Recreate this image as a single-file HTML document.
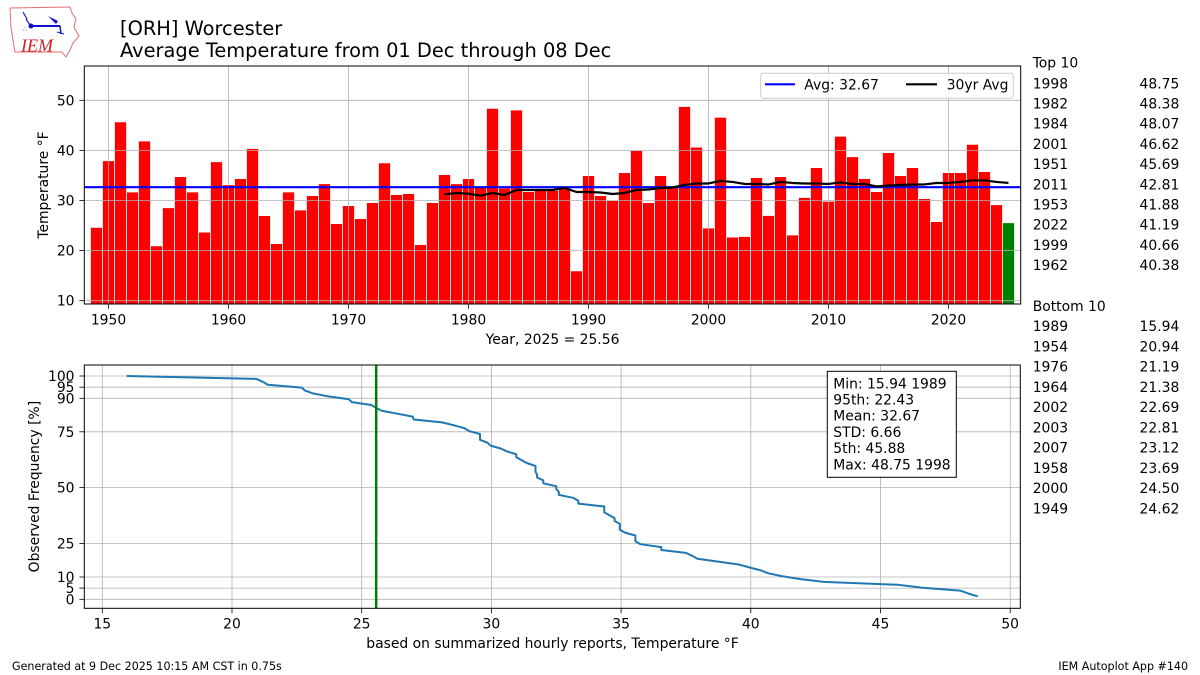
<!DOCTYPE html>
<html>
<head>
<meta charset="utf-8">
<style>
html,body{margin:0;padding:0;background:#fff;}
svg{display:block;}
text{font-family:"DejaVu Sans","Liberation Sans",sans-serif;fill:#000;}
</style>
</head>
<body>
<svg width="1200" height="675" viewBox="0 0 1200 675" xmlns="http://www.w3.org/2000/svg">
<rect x="0" y="0" width="1200" height="675" fill="#fff"/>
<defs>
<clipPath id="c1"><rect x="84.3" y="66" width="936.4" height="238"/></clipPath>
<clipPath id="c2"><rect x="84.3" y="365" width="936" height="243.3"/></clipPath>
</defs>

<!-- Logo -->
<g>
<path d="M10,8 L70,7 L72,13 L76,19 L74,27 L79,36 L73,43 L70,50 L66,57 L62,52 L15,52 L13,40 L11,28 Z" fill="none" stroke="#e07070" stroke-width="1"/>
<line x1="23" y1="12" x2="27" y2="19" stroke="#2020d0" stroke-width="1.2"/>
<line x1="26" y1="19" x2="30" y2="25" stroke="#2020d0" stroke-width="1.2"/>
<line x1="31" y1="26" x2="60" y2="26" stroke="#1010d0" stroke-width="2"/>
<circle cx="31" cy="26" r="2.5" fill="#1010d0"/>
<path d="M48,16 L58,21 L56,24 Z" fill="#1010d0"/>
<line x1="60" y1="26" x2="61" y2="34" stroke="#1010d0" stroke-width="1.5"/>
<line x1="57" y1="32" x2="64" y2="34" stroke="#1010d0" stroke-width="1"/>
<text x="23" y="31" font-size="6" fill="#1010d0" style="fill:#1010d0">&#8756;</text>
<text x="21" y="51.5" font-size="18" font-style="italic" style="font-family:'Liberation Serif',serif;fill:#d02020">IEM</text>
</g>

<!-- Titles -->
<text x="120" y="35" font-size="19.4">[ORH] Worcester</text>
<text x="120" y="57" font-size="19.4">Average Temperature from 01 Dec through 08 Dec</text>

<!-- ===== TOP AXES ===== -->
<g clip-path="url(#c1)">
<g transform="matrix(12 0 0 -5.01 -23291.5 350.8)" fill="#ff0000" stroke="#ffffff" stroke-width="0.7">
<rect vector-effect="non-scaling-stroke" x="1948.5" width="1" height="24.62"/>
<rect vector-effect="non-scaling-stroke" x="1949.5" width="1" height="37.94"/>
<rect vector-effect="non-scaling-stroke" x="1950.5" width="1" height="45.69"/>
<rect vector-effect="non-scaling-stroke" x="1951.5" width="1" height="31.7"/>
<rect vector-effect="non-scaling-stroke" x="1952.5" width="1" height="41.88"/>
<rect vector-effect="non-scaling-stroke" x="1953.5" width="1" height="20.94"/>
<rect vector-effect="non-scaling-stroke" x="1954.5" width="1" height="28.56"/>
<rect vector-effect="non-scaling-stroke" x="1955.5" width="1" height="34.75"/>
<rect vector-effect="non-scaling-stroke" x="1956.5" width="1" height="31.7"/>
<rect vector-effect="non-scaling-stroke" x="1957.5" width="1" height="23.69"/>
<rect vector-effect="non-scaling-stroke" x="1958.5" width="1" height="37.74"/>
<rect vector-effect="non-scaling-stroke" x="1959.5" width="1" height="33.15"/>
<rect vector-effect="non-scaling-stroke" x="1960.5" width="1" height="34.35"/>
<rect vector-effect="non-scaling-stroke" x="1961.5" width="1" height="40.38"/>
<rect vector-effect="non-scaling-stroke" x="1962.5" width="1" height="26.97"/>
<rect vector-effect="non-scaling-stroke" x="1963.5" width="1" height="21.38"/>
<rect vector-effect="non-scaling-stroke" x="1964.5" width="1" height="31.7"/>
<rect vector-effect="non-scaling-stroke" x="1965.5" width="1" height="28.1"/>
<rect vector-effect="non-scaling-stroke" x="1966.5" width="1" height="30.96"/>
<rect vector-effect="non-scaling-stroke" x="1967.5" width="1" height="33.35"/>
<rect vector-effect="non-scaling-stroke" x="1968.5" width="1" height="25.37"/>
<rect vector-effect="non-scaling-stroke" x="1969.5" width="1" height="28.96"/>
<rect vector-effect="non-scaling-stroke" x="1970.5" width="1" height="26.37"/>
<rect vector-effect="non-scaling-stroke" x="1971.5" width="1" height="29.56"/>
<rect vector-effect="non-scaling-stroke" x="1972.5" width="1" height="37.5"/>
<rect vector-effect="non-scaling-stroke" x="1973.5" width="1" height="31.16"/>
<rect vector-effect="non-scaling-stroke" x="1974.5" width="1" height="31.36"/>
<rect vector-effect="non-scaling-stroke" x="1975.5" width="1" height="21.19"/>
<rect vector-effect="non-scaling-stroke" x="1976.5" width="1" height="29.56"/>
<rect vector-effect="non-scaling-stroke" x="1977.5" width="1" height="35.15"/>
<rect vector-effect="non-scaling-stroke" x="1978.5" width="1" height="33.35"/>
<rect vector-effect="non-scaling-stroke" x="1979.5" width="1" height="34.35"/>
<rect vector-effect="non-scaling-stroke" x="1980.5" width="1" height="32.6"/>
<rect vector-effect="non-scaling-stroke" x="1981.5" width="1" height="48.38"/>
<rect vector-effect="non-scaling-stroke" x="1982.5" width="1" height="32.5"/>
<rect vector-effect="non-scaling-stroke" x="1983.5" width="1" height="48.07"/>
<rect vector-effect="non-scaling-stroke" x="1984.5" width="1" height="31.76"/>
<rect vector-effect="non-scaling-stroke" x="1985.5" width="1" height="32.0"/>
<rect vector-effect="non-scaling-stroke" x="1986.5" width="1" height="32.0"/>
<rect vector-effect="non-scaling-stroke" x="1987.5" width="1" height="32.5"/>
<rect vector-effect="non-scaling-stroke" x="1988.5" width="1" height="15.94"/>
<rect vector-effect="non-scaling-stroke" x="1989.5" width="1" height="34.95"/>
<rect vector-effect="non-scaling-stroke" x="1990.5" width="1" height="30.96"/>
<rect vector-effect="non-scaling-stroke" x="1991.5" width="1" height="29.96"/>
<rect vector-effect="non-scaling-stroke" x="1992.5" width="1" height="35.55"/>
<rect vector-effect="non-scaling-stroke" x="1993.5" width="1" height="39.94"/>
<rect vector-effect="non-scaling-stroke" x="1994.5" width="1" height="29.56"/>
<rect vector-effect="non-scaling-stroke" x="1995.5" width="1" height="34.95"/>
<rect vector-effect="non-scaling-stroke" x="1996.5" width="1" height="32.6"/>
<rect vector-effect="non-scaling-stroke" x="1997.5" width="1" height="48.75"/>
<rect vector-effect="non-scaling-stroke" x="1998.5" width="1" height="40.66"/>
<rect vector-effect="non-scaling-stroke" x="1999.5" width="1" height="24.5"/>
<rect vector-effect="non-scaling-stroke" x="2000.5" width="1" height="46.62"/>
<rect vector-effect="non-scaling-stroke" x="2001.5" width="1" height="22.69"/>
<rect vector-effect="non-scaling-stroke" x="2002.5" width="1" height="22.81"/>
<rect vector-effect="non-scaling-stroke" x="2003.5" width="1" height="34.55"/>
<rect vector-effect="non-scaling-stroke" x="2004.5" width="1" height="27.0"/>
<rect vector-effect="non-scaling-stroke" x="2005.5" width="1" height="34.75"/>
<rect vector-effect="non-scaling-stroke" x="2006.5" width="1" height="23.12"/>
<rect vector-effect="non-scaling-stroke" x="2007.5" width="1" height="30.6"/>
<rect vector-effect="non-scaling-stroke" x="2008.5" width="1" height="36.55"/>
<rect vector-effect="non-scaling-stroke" x="2009.5" width="1" height="29.85"/>
<rect vector-effect="non-scaling-stroke" x="2010.5" width="1" height="42.81"/>
<rect vector-effect="non-scaling-stroke" x="2011.5" width="1" height="38.74"/>
<rect vector-effect="non-scaling-stroke" x="2012.5" width="1" height="34.35"/>
<rect vector-effect="non-scaling-stroke" x="2013.5" width="1" height="31.76"/>
<rect vector-effect="non-scaling-stroke" x="2014.5" width="1" height="39.54"/>
<rect vector-effect="non-scaling-stroke" x="2015.5" width="1" height="34.95"/>
<rect vector-effect="non-scaling-stroke" x="2016.5" width="1" height="36.55"/>
<rect vector-effect="non-scaling-stroke" x="2017.5" width="1" height="30.36"/>
<rect vector-effect="non-scaling-stroke" x="2018.5" width="1" height="25.77"/>
<rect vector-effect="non-scaling-stroke" x="2019.5" width="1" height="35.55"/>
<rect vector-effect="non-scaling-stroke" x="2020.5" width="1" height="35.55"/>
<rect vector-effect="non-scaling-stroke" x="2021.5" width="1" height="41.19"/>
<rect vector-effect="non-scaling-stroke" x="2022.5" width="1" height="35.75"/>
<rect vector-effect="non-scaling-stroke" x="2023.5" width="1" height="29.15"/>
<rect vector-effect="non-scaling-stroke" x="2024.5" width="1" height="25.56" fill="#008000"/>
</g>
<!-- grid -->
<g stroke="#b0b0b0" stroke-width="0.8">
<line x1="108.5" y1="66" x2="108.5" y2="304"/>
<line x1="228.5" y1="66" x2="228.5" y2="304"/>
<line x1="348.5" y1="66" x2="348.5" y2="304"/>
<line x1="468.5" y1="66" x2="468.5" y2="304"/>
<line x1="588.5" y1="66" x2="588.5" y2="304"/>
<line x1="708.5" y1="66" x2="708.5" y2="304"/>
<line x1="828.5" y1="66" x2="828.5" y2="304"/>
<line x1="948.5" y1="66" x2="948.5" y2="304"/>
<line x1="84.3" y1="300.7" x2="1020.7" y2="300.7"/>
<line x1="84.3" y1="250.6" x2="1020.7" y2="250.6"/>
<line x1="84.3" y1="200.5" x2="1020.7" y2="200.5"/>
<line x1="84.3" y1="150.4" x2="1020.7" y2="150.4"/>
<line x1="84.3" y1="100.3" x2="1020.7" y2="100.3"/>
</g>
<!-- avg line -->
<line x1="84.3" y1="187.2" x2="1020.7" y2="187.2" stroke="#0000ff" stroke-width="2.2"/>
<!-- 30yr avg -->
<g transform="matrix(12 0 0 -5.01 -23291.5 350.8)">
<polyline vector-effect="non-scaling-stroke" fill="none" stroke="#000" stroke-width="2.2" stroke-linejoin="round" points="1978,31.24 1979,31.5 1980,31.36 1981,30.96 1982,31.5 1983,31.1 1984,32.1 1985,32.1 1986,32.1 1987,32.1 1988,32.5 1989,31.7 1990,31.7 1991,31.6 1992,31.3 1993,31.5 1994,32.1 1995,32.2 1996,32.5 1997,32.6 1998,33.1 1999,33.4 2000,33.4 2001,33.9 2002,33.7 2003,33.3 2004,33.3 2005,33.2 2006,33.7 2007,33.5 2008,33.4 2009,33.4 2010,33.3 2011,33.6 2012,33.3 2013,33.3 2014,32.8 2015,33.0 2016,33.1 2017,33.2 2018,33.2 2019,33.5 2020,33.5 2021,33.7 2022,34.0 2023,34.0 2024,33.7 2025,33.5"/>
</g>
</g>
<!-- top spines & ticks -->
<rect x="84.3" y="66" width="936.4" height="238" fill="none" stroke="#000" stroke-width="1"/>
<g stroke="#000" stroke-width="0.8">
<line x1="108.5" y1="304" x2="108.5" y2="308.9"/>
<line x1="228.5" y1="304" x2="228.5" y2="308.9"/>
<line x1="348.5" y1="304" x2="348.5" y2="308.9"/>
<line x1="468.5" y1="304" x2="468.5" y2="308.9"/>
<line x1="588.5" y1="304" x2="588.5" y2="308.9"/>
<line x1="708.5" y1="304" x2="708.5" y2="308.9"/>
<line x1="828.5" y1="304" x2="828.5" y2="308.9"/>
<line x1="948.5" y1="304" x2="948.5" y2="308.9"/>
<line x1="79.4" y1="300.7" x2="84.3" y2="300.7"/>
<line x1="79.4" y1="250.6" x2="84.3" y2="250.6"/>
<line x1="79.4" y1="200.5" x2="84.3" y2="200.5"/>
<line x1="79.4" y1="150.4" x2="84.3" y2="150.4"/>
<line x1="79.4" y1="100.3" x2="84.3" y2="100.3"/>
</g>
<g font-size="13.9" text-anchor="middle">
<text x="108.5" y="324.4">1950</text>
<text x="228.5" y="324.4">1960</text>
<text x="348.5" y="324.4">1970</text>
<text x="468.5" y="324.4">1980</text>
<text x="588.5" y="324.4">1990</text>
<text x="708.5" y="324.4">2000</text>
<text x="828.5" y="324.4">2010</text>
<text x="948.5" y="324.4">2020</text>
</g>
<g font-size="13.9" text-anchor="end">
<text x="74.5" y="305.7">10</text>
<text x="74.5" y="255.6">20</text>
<text x="74.5" y="205.5">30</text>
<text x="74.5" y="155.4">40</text>
<text x="74.5" y="105.3">50</text>
</g>
<text x="552.5" y="344" font-size="13.9" text-anchor="middle">Year, 2025 = 25.56</text>
<text transform="translate(48,185) rotate(-90)" font-size="13.9" text-anchor="middle">Temperature °F</text>

<!-- legend -->
<rect x="760.7" y="73.3" width="252.6" height="25" rx="2.5" fill="#fff" fill-opacity="0.8" stroke="#cccccc" stroke-width="1"/>
<line x1="765" y1="84.3" x2="795" y2="84.3" stroke="#0000ff" stroke-width="2.2"/>
<text x="804.3" y="89.3" font-size="13.9">Avg: 32.67</text>
<line x1="906" y1="84.3" x2="937" y2="84.3" stroke="#000" stroke-width="2.2"/>
<text x="946.7" y="89.3" font-size="13.9">30yr Avg</text>

<!-- ===== BOTTOM AXES ===== -->
<g stroke="#b0b0b0" stroke-width="0.8">
<line x1="102.3" y1="365" x2="102.3" y2="608.3"/>
<line x1="232.0" y1="365" x2="232.0" y2="608.3"/>
<line x1="361.7" y1="365" x2="361.7" y2="608.3"/>
<line x1="491.4" y1="365" x2="491.4" y2="608.3"/>
<line x1="621.1" y1="365" x2="621.1" y2="608.3"/>
<line x1="750.8" y1="365" x2="750.8" y2="608.3"/>
<line x1="880.5" y1="365" x2="880.5" y2="608.3"/>
<line x1="1010.2" y1="365" x2="1010.2" y2="608.3"/>
<line x1="84.3" y1="599.3" x2="1020.3" y2="599.3"/>
<line x1="84.3" y1="588.1" x2="1020.3" y2="588.1"/>
<line x1="84.3" y1="577.0" x2="1020.3" y2="577.0"/>
<line x1="84.3" y1="543.5" x2="1020.3" y2="543.5"/>
<line x1="84.3" y1="487.6" x2="1020.3" y2="487.6"/>
<line x1="84.3" y1="431.8" x2="1020.3" y2="431.8"/>
<line x1="84.3" y1="398.3" x2="1020.3" y2="398.3"/>
<line x1="84.3" y1="387.2" x2="1020.3" y2="387.2"/>
<line x1="84.3" y1="376.0" x2="1020.3" y2="376.0"/>
</g>
<g clip-path="url(#c2)">
<g transform="matrix(25.94 0 0 -2.233 -286.8 599.3)">
<polyline vector-effect="non-scaling-stroke" fill="none" stroke="#1f77b4" stroke-width="2" stroke-linejoin="round" points="15.94,100 20.94,98.70 21.19,97.40 21.38,96.10 22.69,94.81 22.81,93.51 23.12,92.21 23.69,90.91 24.5,89.61 24.62,88.31 25.37,87.01 25.56,85.71 25.77,84.42 26.37,83.12 26.97,81.82 27.0,80.52 28.1,79.22 28.56,77.92 28.96,76.62 29.15,75.32 29.56,74.03 29.56,72.73 29.56,71.43 29.85,70.13 29.96,68.83 30.36,67.53 30.6,66.23 30.96,64.94 30.96,63.64 31.16,62.34 31.36,61.04 31.7,59.74 31.7,58.44 31.7,57.14 31.76,55.84 31.76,54.55 32.0,53.25 32.0,51.95 32.5,50.65 32.5,49.35 32.6,48.05 32.6,46.75 33.15,45.45 33.35,44.16 33.35,42.86 34.35,41.56 34.35,40.26 34.35,38.96 34.55,37.66 34.75,36.36 34.75,35.06 34.95,33.77 34.95,32.47 34.95,31.17 35.15,29.87 35.55,28.57 35.55,27.27 35.55,25.97 35.75,24.68 36.55,23.38 36.55,22.08 37.5,20.78 37.74,19.48 37.94,18.18 38.74,16.88 39.54,15.58 39.94,14.29 40.38,12.99 40.66,11.69 41.19,10.39 41.88,9.09 42.81,7.79 45.69,6.49 46.62,5.19 48.07,3.90 48.38,2.60 48.75,1.30"/>
</g>
<line x1="376.2" y1="365" x2="376.2" y2="608.3" stroke="#008000" stroke-width="2.5"/>
</g>
<rect x="84.3" y="365" width="936" height="243.3" fill="none" stroke="#000" stroke-width="1"/>
<g stroke="#000" stroke-width="0.8">
<line x1="102.3" y1="608.3" x2="102.3" y2="613.2"/>
<line x1="232.0" y1="608.3" x2="232.0" y2="613.2"/>
<line x1="361.7" y1="608.3" x2="361.7" y2="613.2"/>
<line x1="491.4" y1="608.3" x2="491.4" y2="613.2"/>
<line x1="621.1" y1="608.3" x2="621.1" y2="613.2"/>
<line x1="750.8" y1="608.3" x2="750.8" y2="613.2"/>
<line x1="880.5" y1="608.3" x2="880.5" y2="613.2"/>
<line x1="1010.2" y1="608.3" x2="1010.2" y2="613.2"/>
<line x1="79.4" y1="599.3" x2="84.3" y2="599.3"/>
<line x1="79.4" y1="588.1" x2="84.3" y2="588.1"/>
<line x1="79.4" y1="577.0" x2="84.3" y2="577.0"/>
<line x1="79.4" y1="543.5" x2="84.3" y2="543.5"/>
<line x1="79.4" y1="487.6" x2="84.3" y2="487.6"/>
<line x1="79.4" y1="431.8" x2="84.3" y2="431.8"/>
<line x1="79.4" y1="398.3" x2="84.3" y2="398.3"/>
<line x1="79.4" y1="387.2" x2="84.3" y2="387.2"/>
<line x1="79.4" y1="376.0" x2="84.3" y2="376.0"/>
</g>
<g font-size="13.9" text-anchor="middle">
<text x="102.3" y="628.4">15</text>
<text x="232.0" y="628.4">20</text>
<text x="361.7" y="628.4">25</text>
<text x="491.4" y="628.4">30</text>
<text x="621.1" y="628.4">35</text>
<text x="750.8" y="628.4">40</text>
<text x="880.5" y="628.4">45</text>
<text x="1010.2" y="628.4">50</text>
</g>
<g font-size="13.9" text-anchor="end">
<text x="74.5" y="604.3">0</text>
<text x="74.5" y="593.1">5</text>
<text x="74.5" y="582.0">10</text>
<text x="74.5" y="548.5">25</text>
<text x="74.5" y="492.6">50</text>
<text x="74.5" y="436.8">75</text>
<text x="74.5" y="403.3">90</text>
<text x="74.5" y="392.2">95</text>
<text x="74.5" y="381.0">100</text>
</g>
<text x="552.5" y="648" font-size="13.9" text-anchor="middle">based on summarized hourly reports, Temperature °F</text>
<text transform="translate(39,486.6) rotate(-90)" font-size="13.9" text-anchor="middle">Observed Frequency [%]</text>

<!-- annotation box -->
<rect x="827.3" y="371.3" width="129" height="106" fill="#fff" stroke="#000" stroke-width="1"/>
<g font-size="13.9">
<text x="833.3" y="388.3">Min: 15.94 1989</text>
<text x="833.3" y="404.5">95th: 22.43</text>
<text x="833.3" y="420.7">Mean: 32.67</text>
<text x="833.3" y="436.9">STD: 6.66</text>
<text x="833.3" y="453.1">5th: 45.88</text>
<text x="833.3" y="469.3">Max: 48.75 1998</text>
</g>

<!-- right tables -->
<g font-size="13.9">
<text x="1032.7" y="67.7">Top 10</text>
<text x="1032.7" y="88.3">1998</text><text x="1179.3" y="88.3" text-anchor="end">48.75</text>
<text x="1032.7" y="108.5">1982</text><text x="1179.3" y="108.5" text-anchor="end">48.38</text>
<text x="1032.7" y="128.7">1984</text><text x="1179.3" y="128.7" text-anchor="end">48.07</text>
<text x="1032.7" y="148.9">2001</text><text x="1179.3" y="148.9" text-anchor="end">46.62</text>
<text x="1032.7" y="169.1">1951</text><text x="1179.3" y="169.1" text-anchor="end">45.69</text>
<text x="1032.7" y="189.3">2011</text><text x="1179.3" y="189.3" text-anchor="end">42.81</text>
<text x="1032.7" y="209.5">1953</text><text x="1179.3" y="209.5" text-anchor="end">41.88</text>
<text x="1032.7" y="229.7">2022</text><text x="1179.3" y="229.7" text-anchor="end">41.19</text>
<text x="1032.7" y="249.9">1999</text><text x="1179.3" y="249.9" text-anchor="end">40.66</text>
<text x="1032.7" y="270.1">1962</text><text x="1179.3" y="270.1" text-anchor="end">40.38</text>

<text x="1032.7" y="311">Bottom 10</text>
<text x="1032.7" y="331">1989</text><text x="1179.3" y="331" text-anchor="end">15.94</text>
<text x="1032.7" y="351.3">1954</text><text x="1179.3" y="351.3" text-anchor="end">20.94</text>
<text x="1032.7" y="371.5">1976</text><text x="1179.3" y="371.5" text-anchor="end">21.19</text>
<text x="1032.7" y="391.8">1964</text><text x="1179.3" y="391.8" text-anchor="end">21.38</text>
<text x="1032.7" y="412.0">2002</text><text x="1179.3" y="412.0" text-anchor="end">22.69</text>
<text x="1032.7" y="432.3">2003</text><text x="1179.3" y="432.3" text-anchor="end">22.81</text>
<text x="1032.7" y="452.6">2007</text><text x="1179.3" y="452.6" text-anchor="end">23.12</text>
<text x="1032.7" y="472.8">1958</text><text x="1179.3" y="472.8" text-anchor="end">23.69</text>
<text x="1032.7" y="493.1">2000</text><text x="1179.3" y="493.1" text-anchor="end">24.50</text>
<text x="1032.7" y="513.3">1949</text><text x="1179.3" y="513.3" text-anchor="end">24.62</text>
</g>

<!-- footer -->
<text x="12" y="670" font-size="11.1">Generated at 9 Dec 2025 10:15 AM CST in 0.75s</text>
<text x="1188" y="670" font-size="11.1" text-anchor="end">IEM Autoplot App #140</text>
</svg>
</body>
</html>
